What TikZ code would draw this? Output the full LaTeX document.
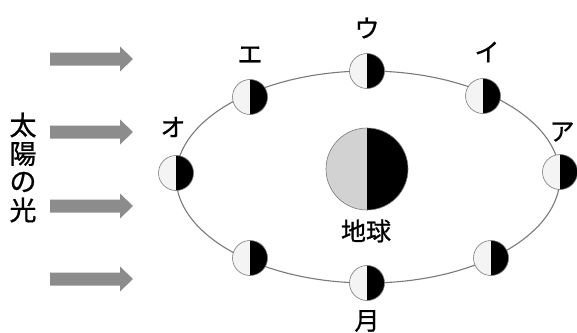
\documentclass[tikz,border=0pt]{standalone}
\usepackage{fontspec}
\newfontfamily\jp[BoldFont={Noto Sans CJK JP},BoldFeatures={FakeBold=0.8}]{Noto Sans CJK JP}
\usetikzlibrary{arrows.meta}
\definecolor{orbitgray}{HTML}{7A7A7A}
\definecolor{arrowgray}{HTML}{8C8C8C}
\definecolor{moonlight}{HTML}{F4F4F4}
\definecolor{earthlight}{HTML}{D2D2D2}
\tikzset{
  lbl/.style={font=\jp\bfseries\fontsize{25}{25}\selectfont, inner sep=0pt},
  sunlbl/.style={font=\jp\bfseries\fontsize{27}{27}\selectfont, inner sep=0pt},
  sunray/.style={draw=none, fill=arrowgray},
  orbit/.style={draw=orbitgray, line width=1.1pt},
}
\newcommand{\moonat}[3]{%
  \coordinate (#1) at (#2,#3);
  \fill[moonlight] (#2,#3) ++(0,-17.5) arc[start angle=-90,end angle=-270,radius=17.5] -- cycle;
  \fill[black] (#2,#3) ++(0,-17.5) arc[start angle=-90,end angle=90,radius=17.5] -- cycle;
  \draw[orbitgray, line width=0.6pt] (#2,#3) circle[radius=17.5];
}
\newcommand{\sunarrow}[2]{%
  \fill[sunray] (50,#2-6.5) -- (120,#2-6.5) -- (120,#2-12.5) -- (133,#2) -- (120,#2+12.5) -- (120,#2+6.5) -- (50,#2+6.5) -- cycle;
  \coordinate (#1) at (133,#2);
}
\begin{document}
\begin{tikzpicture}[x=1pt,y=-1pt]
\useasboundingbox (0,0) rectangle (577,332);
\fill[white] (0,0) rectangle (577,332);
% orbit
\draw[orbit] (368,177) ellipse[x radius=192, y radius=106];
% sun arrows
\sunarrow{r1}{59}
\sunarrow{r2}{132}
\sunarrow{r3}{206}
\sunarrow{r4}{279}
% sunlight label
\node[sunlbl] (t1) at (23,125) {太};
\node[sunlbl] (t2) at (23,154) {陽};
\node[sunlbl] (t3) at (23,182) {の};
\node[sunlbl] (t4) at (23,210) {光};
% earth
\fill[earthlight] (367,169) ++(0,-41) arc[start angle=-90,end angle=-270,radius=41] -- cycle;
\fill[black] (367,169) ++(0,-41) arc[start angle=-90,end angle=90,radius=41] -- cycle;
\draw[orbitgray, line width=0.6pt] (367,169) circle[radius=41];
\coordinate (earth) at (367,169);
\node[lbl] (earthlbl) at (366,231) {地球};
% moons
\moonat{mU}{367}{71}
\moonat{mI}{483}{96}
\moonat{mA}{560}{172}
\moonat{mLR}{491}{258}
\moonat{mB}{367}{283}
\moonat{mLL}{250}{258}
\moonat{mO}{176}{173}
\moonat{mE}{250}{97}
% labels
\node[lbl] (lU) at (367,28) {ウ};
\node[lbl] (lI) at (487,52) {イ};
\node[lbl] (lA) at (562,132) {ア};
\node[lbl] (lE) at (250,55) {エ};
\node[lbl] (lO) at (173,127) {オ};
\node[lbl] (lM) at (367,321) {月};
\end{tikzpicture}
\end{document}
